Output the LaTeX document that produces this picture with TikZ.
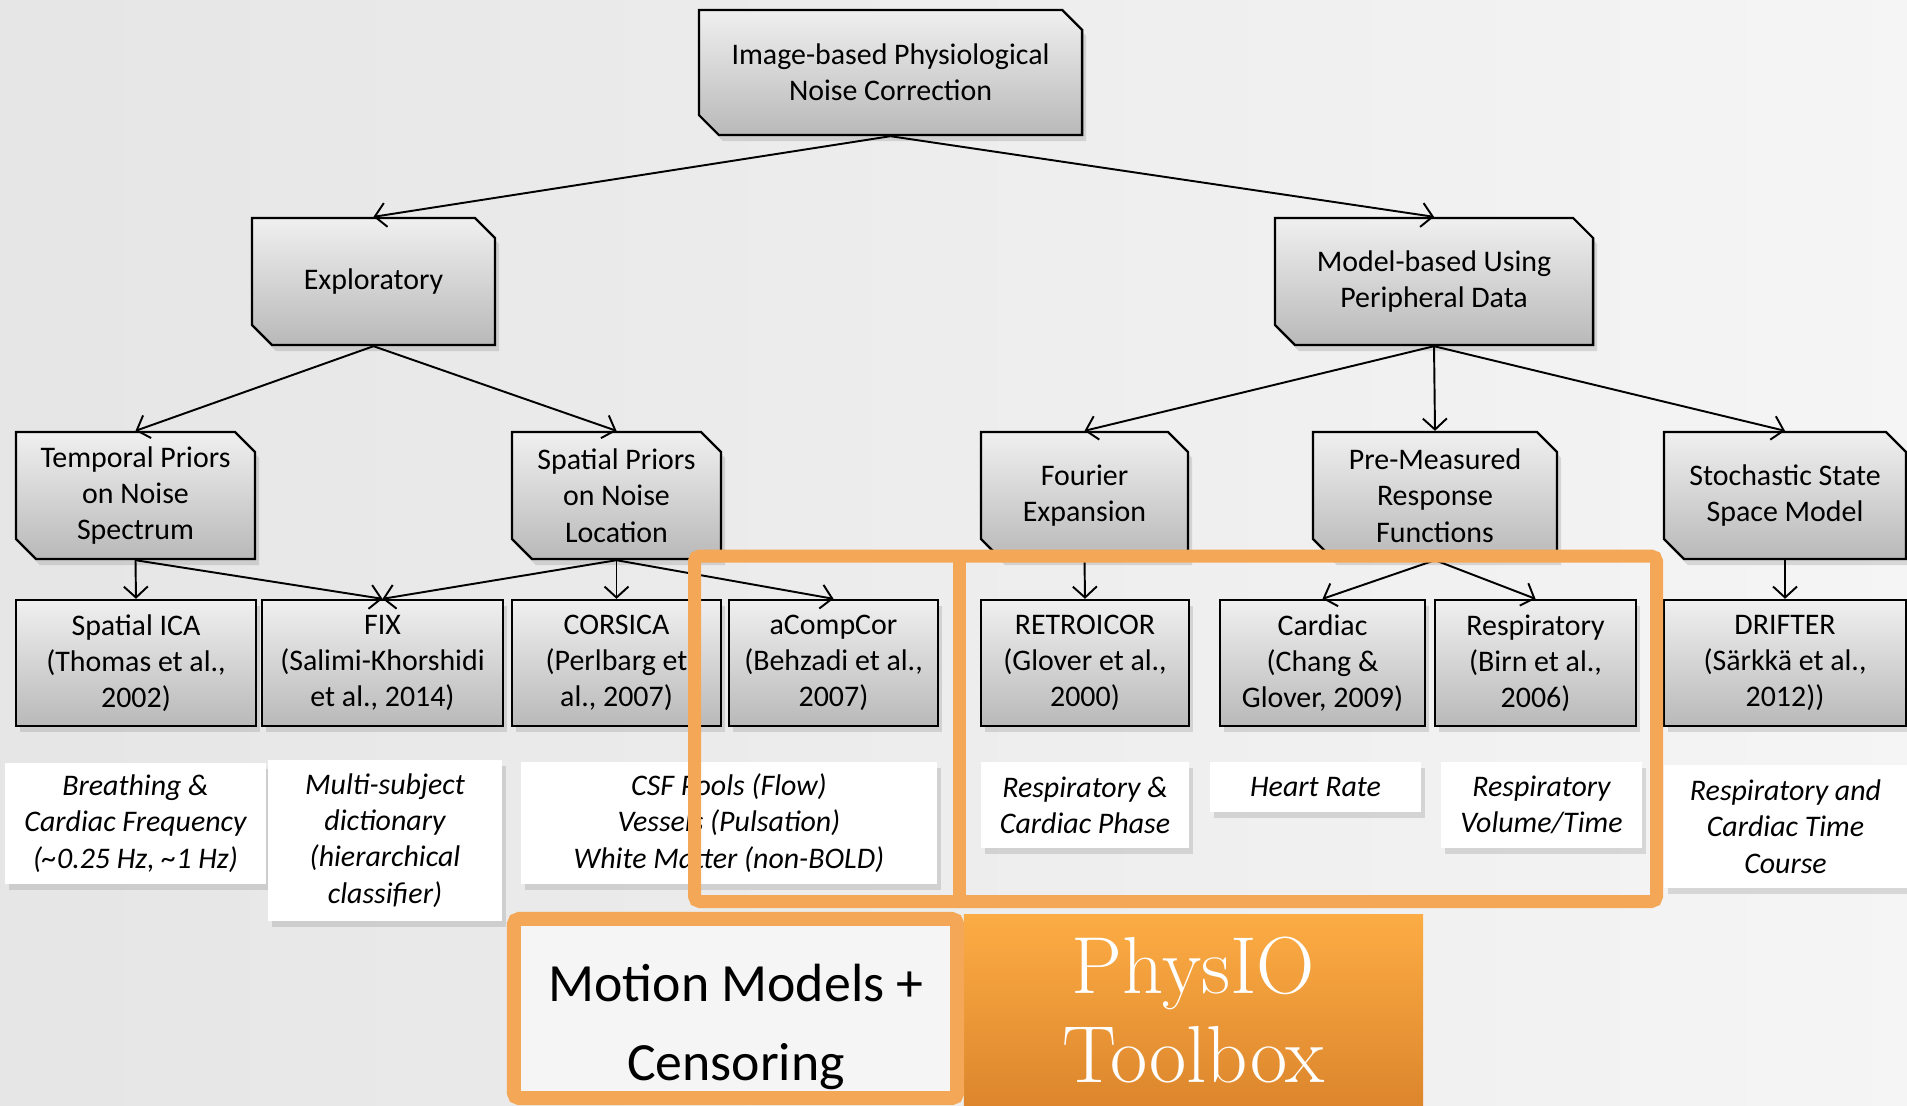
\documentclass[tikz,border=0pt]{standalone}
\usepackage{fontspec}
\newfontfamily\calib{Carlito}
\usetikzlibrary{arrows.meta,shapes.misc,shadows}
\definecolor{framorange}{RGB}{244,168,87}
\definecolor{toolhi}{RGB}{252,172,68}
\definecolor{toollo}{RGB}{221,134,45}
\begin{document}
\begin{tikzpicture}[x=0.01cm, y=-0.01cm,
    font=\calib\fontsize{8.5}{10.3}\selectfont,
    boxshadow/.style={drop shadow={shadow xshift=0.4mm, shadow yshift=-0.6mm, opacity=0.25}},
    category/.style={chamfered rectangle, chamfered rectangle corners={north east,south west},
      chamfered rectangle sep=0.1cm, draw=black, line width=0.65pt, inner sep=0pt,
      top color=gray!12, bottom color=gray!55, align=center, boxshadow},
    method/.style={rectangle, draw=black, line width=0.65pt, inner sep=1pt, minimum height=1.26cm,
      top color=gray!12, bottom color=gray!55, align=center, boxshadow},
    note/.style={rectangle, fill=white, inner sep=1pt, align=center,
      font=\calib\itshape\fontsize{8.5}{10.3}\selectfont, boxshadow},
    link/.style={-{Straight Barb[length=1.1mm,width=2.4mm]}, line width=0.55pt}]
  \useasboundingbox (0,0) rectangle (1907,1105);
  \shade[left color=gray!20, right color=gray!8] (0,0) rectangle (1907,1105);

  % categories
  \node (root) at (890.5,72.5) [category, minimum width=3.83cm, minimum height=1.25cm] {Image-based Physiological\\Noise Correction};
  \node (explo) at (373.5,281.5) [category, minimum width=2.43cm, minimum height=1.27cm] {Exploratory};
  \node (model) at (1434,281.5) [category, minimum width=3.18cm, minimum height=1.27cm] {Model-based Using\\Peripheral Data};
  \node (temporal) at (135.5,495.5) [category, minimum width=2.39cm, minimum height=1.27cm] {Temporal Priors\\on Noise\\Spectrum};
  \node (spatial) at (616.5,495.5) [category, minimum width=2.09cm, minimum height=1.27cm] {Spatial Priors\\on Noise\\Location};
  \node (fourier) at (1084.5,495.5) [category, minimum width=2.07cm, minimum height=1.27cm] {Fourier\\Expansion};
  \node (premeas) at (1435,495.5) [category, minimum width=2.44cm, minimum height=1.27cm] {Pre-Measured\\Response\\Functions};
  \node (stoch) at (1785,495.5) [category, minimum width=2.42cm, minimum height=1.27cm] {Stochastic State\\Space Model};

  % methods
  \node (sica) at (136,663) [method, minimum width=2.40cm] {Spatial ICA\\(Thomas et al.,\\2002)};
  \node (fix) at (382.5,663) [method, minimum width=2.41cm] {FIX\\(Salimi-Khorshidi\\et al., 2014)};
  \node (corsica) at (616.5,663) [method, minimum width=2.09cm] {CORSICA\\(Perlbarg et\\al., 2007)};
  \node (acompcor) at (833.5,663) [method, minimum width=2.09cm] {aCompCor\\(Behzadi et al.,\\2007)};
  \node (retro) at (1085,663) [method, minimum width=2.08cm] {RETROICOR\\(Glover et al.,\\2000)};
  \node (cardiac) at (1322.5,663) [method, minimum width=2.05cm] {Cardiac\\(Chang \&\\Glover, 2009)};
  \node (resp) at (1535.5,663) [method, minimum width=2.01cm] {Respiratory\\(Birn et al.,\\2006)};
  \node (drifter) at (1785,663) [method, minimum width=2.42cm] {DRIFTER\\(Särkkä et al.,\\2012))};

  % what each method models
  \node (sicanote) at (135.5,823.5) [note, minimum width=2.61cm, minimum height=1.21cm] {Breathing \&\\Cardiac Frequency\\(\textasciitilde 0.25 Hz, \textasciitilde 1 Hz)};
  \node (fixnote) at (385,840.5) [note, minimum width=2.34cm, minimum height=1.61cm] {Multi-subject\\dictionary\\(hierarchical\\classifier)};
  \node (csfnote) at (729,823) [note, minimum width=4.16cm, minimum height=1.22cm] {CSF Pools (Flow)\\Vessels (Pulsation)\\White Matter (non-BOLD)};
  \node (retronote) at (1085,805) [note, minimum width=2.08cm, minimum height=0.86cm] {Respiratory \&\\Cardiac Phase};
  \node (hrnote) at (1315.5,787) [note, minimum width=2.11cm, minimum height=0.50cm] {Heart Rate};
  \node (respnote) at (1541.5,805) [note, minimum width=2.01cm, minimum height=0.86cm] {Respiratory\\Volume/Time};
  \node (driftnote) at (1785.5,826.5) [note, minimum width=2.43cm, minimum height=1.23cm] {Respiratory and\\Cardiac Time\\Course};

  % connectors
  \draw[link] (root.south) -- (explo.north);
  \draw[link] (root.south) -- (model.north);
  \draw[link] (explo.south) -- (temporal.north);
  \draw[link] (explo.south) -- (spatial.north);
  \draw[link] (model.south) -- (fourier.north);
  \draw[link] (model.south) -- (premeas.north);
  \draw[link] (model.south) -- (stoch.north);
  \draw[link] (temporal.south) -- (sica.north);
  \draw[link] (temporal.south) -- (fix.north);
  \draw[link] (spatial.south) -- (fix.north);
  \draw[link] (spatial.south) -- (corsica.north);
  \draw[link] (spatial.south) -- (acompcor.north);
  \draw[link] (fourier.south) -- (retro.north);
  \draw[link] (premeas.south) -- (cardiac.north);
  \draw[link] (premeas.south) -- (resp.north);
  \draw[link] (stoch.south) -- (drifter.north);

  % toolbox
  \node (physio) at (1193.5,1010) [minimum width=4.59cm, minimum height=1.90cm, top color=toolhi, bottom color=toollo,
    align=center, text=white, font=\fontsize{23}{25.5}\selectfont] {PhysIO\\Toolbox};
  \node (motion) at (735.5,1008.5) [draw=framorange, line width=0.14cm, fill=gray!8, rounded corners=1.5pt,
    minimum width=4.43cm, minimum height=1.79cm] {};
  \node (motiontext) at (736,1027) [align=center, font=\calib\fontsize{15.3}{22.4}\selectfont] {Motion Models +\\Censoring};
  \draw[framorange, line width=0.13cm, rounded corners=1.5pt] (694.5,556) rectangle (1656.5,901.5);
  \draw[framorange, line width=0.13cm] (959,556) -- (959,901.5);
\end{tikzpicture}
\end{document}
